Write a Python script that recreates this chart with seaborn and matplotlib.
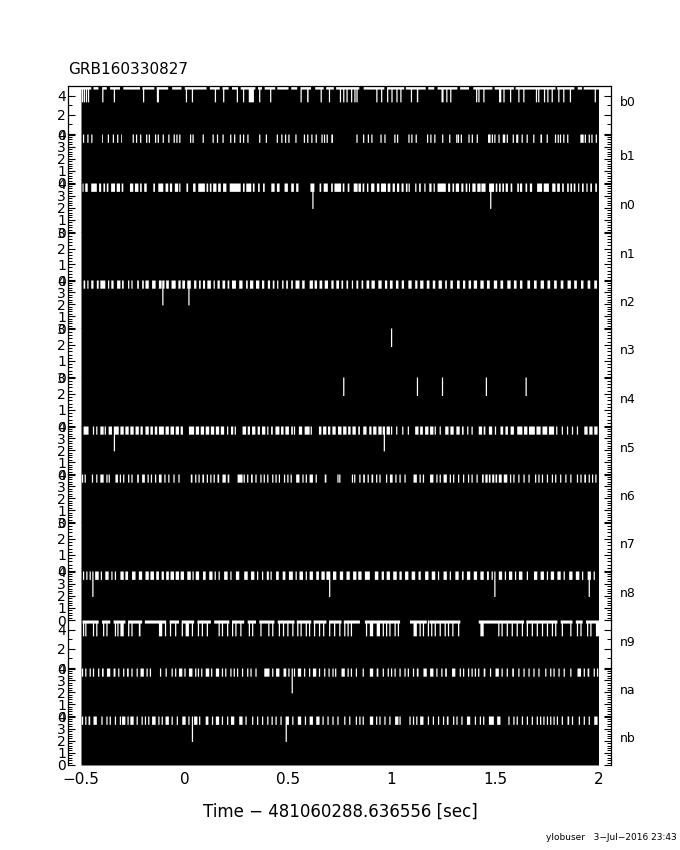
import numpy as np
import pandas as pd
import matplotlib
matplotlib.use("Agg")
import matplotlib.pyplot as plt
from matplotlib.ticker import MultipleLocator, FixedLocator
import seaborn as sns

# ---------------- data ----------------
TITLE = "GRB160330827"
XLABEL = "Time \u2212 481060288.636556 [sec]"
FOOTER = "ylobuser   3\u2212Jul\u22122016 23:43"
T0, T1 = -0.5, 2.0
XTICKS = [-0.5, 0, 0.5, 1, 1.5, 2]
XTICKLABELS = ["\u22120.5", "0", "0.5", "1", "1.5", "2"]

DETECTORS = ["b0", "b1", "n0", "n1", "n2", "n3", "n4", "n5", "n6", "n7", "n8", "n9", "na", "nb"]
# axis range type per panel: A -> 0..5 (labels 0,2,4); B -> 0..4 ; C -> 0..3
SCALE = ["A", "B", "B", "C", "B", "C", "C", "B", "B", "C", "B", "A", "B", "B"]

# typical (most common) count level, lower level at short drop-outs, level of single deep drop-outs
FULL_LEVEL = {"A": 4.68, "B": 4.2, "C": 3.2}
GAP_LEVEL = {"A": 3.35, "B": 3.36, "C": 2.4}
DEEP_LEVEL = {"A": 2.0, "B": 1.95, "C": 1.9}
PEAK_LEVEL = {"A": 5.2, "B": 4.2, "C": 3.2}

# short drop-outs near the top (single time or (start, end))
GAPS_B0 = [-0.495, -0.486, -0.476, -0.466, -0.397, -0.341, -0.200, (-0.136, -0.126), 0.007, 0.036, 0.147,
           0.187, 0.253, 0.283, (0.308, 0.333), 0.361, 0.414, 0.561, (0.590, 0.597), 0.658, 0.698,
           0.751, 0.767, 0.783, 0.805, 0.821, 0.831, 0.927, 0.950, 0.979, 1.000, 1.024, 1.043, 1.094,
           (1.120, 1.127), (1.239, 1.249), 1.265, 1.284, 1.409, 1.420, 1.444, (1.517, 1.528), 1.541,
           1.573, 1.613, 1.637, 1.698, 1.709, 1.737, 1.753, 1.774, 1.806, 1.830, 1.862, 1.982]
PEAKS_B0 = [(-0.453, -0.442), (-0.418, -0.399), (-0.378, -0.362), (-0.314, -0.298), (-0.217, -0.206),
            (-0.148, -0.137), (-0.081, -0.062), (-0.017, -0.001), (0.104, 0.120), (0.168, 0.181),
            (0.211, 0.227), (0.253, 0.269), (0.340, 0.353), (0.372, 0.385), (0.436, 0.446), (0.500, 0.513),
            (0.542, 0.558), (0.609, 0.629), (0.670, 0.682), (0.719, 0.730), (0.842, 0.863), (0.963, 0.976),
            (1.059, 1.067), (1.163, 1.175), (1.204, 1.220), (1.316, 1.329), (1.372, 1.393), (1.485, 1.496),
            (1.589, 1.597), (1.790, 1.798), (1.881, 1.897), (1.918, 1.926)]

GAPS_B1 = [-0.490, -0.469, -0.450, (-0.401, -0.397), -0.370, -0.346, -0.325, (-0.308, -0.304), -0.250,
           -0.234, (-0.217, -0.211), -0.185, -0.172, -0.142, -0.129, -0.105, -0.078, (-0.055, -0.049),
           -0.039, -0.025, 0.027, 0.039, 0.088, (0.133, 0.139), 0.157, 0.184, 0.221, 0.240, 0.267, 0.283,
           0.304, 0.361, 0.393, 0.446, 0.468, 0.486, 0.502, (0.533, 0.539), 0.577, 0.593, 0.613, 0.634,
           0.662, 0.674, 0.687, (0.707, 0.715), 0.831, 0.863, (0.883, 0.889), 0.903, (0.944, 0.950),
           0.966, 1.014, 1.027, (1.079, 1.085), 1.096, 1.117, 1.172, 1.188, 1.207, 1.245, 1.279, 1.313,
           1.321, 1.335, 1.372, 1.388, 1.412, (1.464, 1.476), 1.485, 1.497, 1.517, (1.535, 1.547), 1.557,
           1.586, (1.600, 1.610), 1.629, 1.653, 1.685, (1.717, 1.725), 1.750, 1.790, 1.803, 1.814, 1.830,
           1.849, (1.910, 1.926), 1.934, 1.953, 1.966, 1.987]

GAPS_N0 = [(-0.495, -0.490), (-0.482, -0.470), (-0.453, -0.426), (-0.415, -0.405), (-0.394, -0.386),
           (-0.378, -0.370), (-0.357, -0.338), (-0.330, -0.314), (-0.306, -0.298), (-0.266, -0.250),
           (-0.242, -0.225), (-0.217, -0.209), (-0.197, -0.185), (-0.153, -0.145), (-0.129, -0.105),
           (-0.094, -0.081), (-0.073, -0.062), (-0.049, -0.033), -0.025, (0.007, 0.015), (0.039, 0.051),
           (0.064, 0.096), (0.104, 0.112), (0.120, 0.128), (0.136, 0.152), (0.160, 0.173), (0.184, 0.200),
           (0.216, 0.269), (0.280, 0.288), (0.296, 0.320), (0.328, 0.336), (0.353, 0.361), (0.377, 0.385),
           (0.417, 0.433), (0.444, 0.457), (0.481, 0.497), (0.513, 0.526), (0.537, 0.548), (0.606, 0.625),
           (0.650, 0.658), (0.670, 0.690), (0.706, 0.714), (0.722, 0.754), (0.762, 0.770), (0.786, 0.794),
           (0.815, 0.834), (0.838, 0.850), (0.858, 0.866), (0.879, 0.886), (0.899, 0.915), (0.927, 0.939),
           (0.947, 0.971), (0.979, 0.992), (1.003, 1.014), (1.024, 1.035), (1.046, 1.056), (1.067, 1.075),
           1.083, 1.115, (1.131, 1.139), 1.159, (1.180, 1.191), 1.204, (1.220, 1.260), (1.271, 1.281),
           (1.292, 1.300), (1.308, 1.324), (1.335, 1.345), (1.356, 1.364), (1.372, 1.377), (1.388, 1.404),
           (1.412, 1.428), (1.432, 1.452), (1.469, 1.493), (1.501, 1.509), (1.517, 1.525), (1.533, 1.541),
           (1.549, 1.560), (1.573, 1.581), (1.605, 1.613), (1.618, 1.629), (1.645, 1.653), (1.666, 1.677),
           (1.701, 1.725), (1.733, 1.758), (1.774, 1.790), (1.798, 1.811), (1.822, 1.830), (1.846, 1.854),
           (1.862, 1.870), (1.878, 1.886), 1.902, (1.918, 1.926), (1.939, 1.945), (1.958, 1.966),
           (1.982, 1.990)]

GAPS_N2 = [(-0.490, -0.482), -0.469, (-0.453, -0.442), (-0.426, -0.417), (-0.409, -0.385), -0.369,
           (-0.356, -0.345), (-0.328, -0.312), (-0.304, -0.296), -0.272, -0.256, (-0.231, -0.223),
           (-0.207, -0.199), (-0.191, -0.175), (-0.159, -0.142), (-0.126, -0.113), -0.102, (-0.091, -0.078),
           (-0.065, -0.045), (-0.032, -0.021), (-0.013, 0.000), (0.011, 0.028), (0.044, 0.055),
           (0.068, 0.076), (0.087, 0.097), (0.108, 0.125), 0.141, (0.157, 0.168), (0.181, 0.194),
           (0.206, 0.214), (0.227, 0.246), (0.262, 0.278), (0.295, 0.303), (0.314, 0.330), (0.343, 0.359),
           (0.372, 0.383), (0.400, 0.411), (0.424, 0.432), 0.448, (0.469, 0.476), (0.489, 0.497),
           (0.513, 0.521), (0.534, 0.553), (0.566, 0.578), (0.602, 0.618), (0.626, 0.638), (0.650, 0.663),
           (0.675, 0.691), (0.707, 0.718), (0.731, 0.744), (0.756, 0.764), (0.780, 0.788), 0.809,
           (0.828, 0.837), (0.853, 0.861), (0.877, 0.890), (0.901, 0.917), (0.934, 0.950), (0.966, 0.977),
           (0.990, 1.003), (1.019, 1.031), (1.047, 1.058), (1.079, 1.095), (1.112, 1.123), (1.136, 1.152),
           (1.168, 1.181), (1.197, 1.209), (1.225, 1.241), (1.257, 1.265), (1.282, 1.294), (1.314, 1.327),
           (1.343, 1.354), (1.370, 1.382), (1.395, 1.411), (1.427, 1.443), (1.459, 1.472), (1.492, 1.508),
           (1.524, 1.537), (1.557, 1.573), (1.589, 1.602), (1.618, 1.630), (1.654, 1.667), (1.686, 1.699),
           (1.718, 1.734), (1.751, 1.764), (1.783, 1.796), (1.815, 1.828), (1.848, 1.864), (1.880, 1.893),
           (1.913, 1.925), (1.945, 1.958), (1.977, 1.990)]

GAPS_N5 = [(-0.490, -0.466), -0.442, -0.426, (-0.409, -0.393), -0.385, (-0.369, -0.353), (-0.340, -0.320),
           (-0.312, -0.296), (-0.288, -0.272), (-0.264, -0.248), (-0.239, -0.223), (-0.215, -0.204),
           (-0.191, -0.175), (-0.167, -0.155), (-0.146, -0.134), (-0.126, -0.102), (-0.094, -0.078),
           (-0.070, -0.053), (-0.045, -0.029), (-0.021, -0.010), (0.019, 0.044), (0.052, 0.068),
           (0.076, 0.092), (0.100, 0.117), (0.125, 0.141), (0.149, 0.165), (0.173, 0.189), 0.206,
           (0.222, 0.233), 0.243, (0.278, 0.295), (0.303, 0.314), (0.324, 0.340), (0.351, 0.362),
           (0.372, 0.388), 0.400, (0.416, 0.424), (0.437, 0.456), (0.464, 0.476), (0.485, 0.502),
           (0.513, 0.521), 0.529, (0.550, 0.566), (0.578, 0.602), 0.610, (0.647, 0.659), (0.667, 0.683),
           (0.691, 0.702), (0.712, 0.728), (0.739, 0.756), (0.764, 0.780), (0.788, 0.800), (0.809, 0.825),
           (0.837, 0.845), (0.861, 0.877), (0.890, 0.901), (0.909, 0.925), (0.934, 0.950), 0.958,
           (0.974, 0.990), 0.998, 1.023, 1.052, 1.079, (1.112, 1.128), (1.136, 1.149), (1.160, 1.176),
           (1.184, 1.200), 1.209, 1.233, (1.257, 1.273), (1.282, 1.298), (1.311, 1.327), (1.338, 1.346),
           1.366, 1.387, (1.419, 1.435), (1.443, 1.451), (1.468, 1.484), 1.500, (1.524, 1.537),
           (1.548, 1.560), (1.573, 1.589), (1.605, 1.630), (1.638, 1.654), (1.662, 1.690), (1.698, 1.718),
           (1.727, 1.750), (1.758, 1.783), 1.796, 1.823, 1.848, 1.872, 1.896, (1.929, 1.945), (1.953, 1.969),
           (1.977, 1.993)]

GAPS_N6 = [-0.495, -0.482, -0.447, -0.426, (-0.409, -0.393), -0.377, -0.366, (-0.336, -0.324), -0.312,
           -0.296, -0.272, -0.256, (-0.231, -0.223), (-0.207, -0.194), -0.178, -0.162, -0.142,
           (-0.126, -0.113), -0.097, -0.078, -0.053, -0.029, (0.028, 0.036), 0.052, 0.068, (0.084, 0.092),
           0.108, 0.125, 0.141, (0.157, 0.165), (0.181, 0.197), (0.206, 0.214), (0.254, 0.278), 0.286, 0.303,
           (0.319, 0.327), 0.343, 0.367, 0.383, 0.400, 0.424, 0.440, 0.456, 0.481, 0.497, 0.513,
           (0.537, 0.553), 0.570, 0.586, (0.602, 0.618), 0.634, (0.675, 0.683), 0.739, 0.748, 0.809, 0.820,
           0.845, (0.861, 0.869), 0.885, (0.901, 0.909), 0.926, 0.942, 0.974, (0.990, 1.003), 1.019, 1.039,
           1.063, (1.104, 1.120), 1.136, 1.152, (1.184, 1.200), 1.217, 1.233, (1.249, 1.265), 1.282, 1.298,
           1.322, 1.346, 1.370, 1.387, 1.411, (1.435, 1.443), (1.451, 1.462), (1.468, 1.476),
           (1.484, 1.494), (1.500, 1.508), (1.516, 1.530), (1.540, 1.557), 1.573, 1.589, 1.613, 1.638,
           1.662, 1.694, 1.710, 1.727, 1.751, 1.775, 1.791, 1.815, 1.840, 1.864, 1.896, 1.913,
           (1.929, 1.937), 1.953, 1.969, 1.985]

GAPS_N8 = [-0.490, -0.474, -0.458, (-0.434, -0.417), -0.404, (-0.385, -0.369), -0.353, -0.336,
           (-0.312, -0.296), (-0.288, -0.275), (-0.256, -0.239), (-0.223, -0.207), (-0.191, -0.175),
           (-0.167, -0.150), (-0.139, -0.126), (-0.113, -0.102), (-0.091, -0.078), (-0.070, -0.053),
           (-0.045, -0.029), (-0.021, -0.005), (0.011, 0.028), 0.039, (0.052, 0.068), (0.087, 0.100),
           (0.117, 0.133), 0.146, 0.165, (0.189, 0.206), 0.222, (0.246, 0.262), (0.286, 0.303),
           (0.319, 0.335), 0.351, 0.375, (0.395, 0.405), 0.416, (0.440, 0.453), (0.472, 0.485),
           (0.502, 0.521), 0.537, (0.553, 0.570), 0.586, (0.602, 0.618), (0.634, 0.647), (0.659, 0.675),
           (0.683, 0.696), (0.715, 0.731), (0.748, 0.764), (0.780, 0.796), (0.812, 0.828), (0.837, 0.853),
           (0.869, 0.893), (0.917, 0.934), (0.950, 0.961), (0.974, 0.990), (1.006, 1.023), (1.036, 1.047),
           (1.063, 1.079), (1.095, 1.112), (1.128, 1.139), (1.160, 1.176), (1.192, 1.209), 1.225,
           (1.249, 1.265), 1.282, (1.306, 1.322), (1.338, 1.346), (1.362, 1.378), (1.395, 1.411),
           (1.427, 1.443), (1.459, 1.468), 1.484, (1.516, 1.532), 1.548, (1.565, 1.581), 1.597,
           (1.613, 1.630), 1.654, (1.686, 1.702), (1.718, 1.734), 1.751, (1.767, 1.783), (1.799, 1.815),
           1.832, (1.856, 1.872), (1.888, 1.905), 1.921, (1.945, 1.961), 1.977]

GAPS_N9 = [-0.490, -0.479, -0.442, -0.426, -0.393, -0.377, -0.336, -0.324, (-0.312, -0.296), -0.272,
           -0.256, (-0.223, -0.215), (-0.126, -0.110), -0.094, -0.070, -0.045, -0.013, (0.003, 0.019), 0.036,
           0.065, 0.084, 0.108, 0.165, 0.181, 0.206, 0.230, 0.246, 0.270, 0.311, 0.327, 0.367, 0.405, 0.424,
           0.456, 0.476, 0.497, 0.521, 0.545, 0.561, 0.586, 0.602, 0.626, 0.650, 0.670, 0.699, 0.723, 0.748,
           0.772, 0.788, 0.804, 0.877, (0.893, 0.909), (0.926, 0.942), 0.958, 0.974, 0.990, 1.015, 1.031,
           (1.104, 1.120), 1.136, 1.152, 1.176, 1.192, 1.209, 1.233, 1.257, 1.273, 1.294, 1.322,
           (1.427, 1.443), 1.516, 1.532, 1.557, 1.581, 1.605, 1.630, 1.654, 1.678, 1.702, 1.727, 1.751,
           1.775, 1.791, 1.823, 1.864, 1.896, 1.913, 1.945, 1.961, (1.985, 2.0)]
PEAKS_N9 = [(-0.500, -0.495), (-0.417, -0.401), (-0.361, -0.345), (-0.288, -0.275), (-0.207, -0.194),
            (-0.091, -0.074), (-0.029, -0.016), (0.044, 0.060), (0.125, 0.141), (0.214, 0.227),
            (0.286, 0.303), (0.343, 0.359), (0.432, 0.448), (0.529, 0.540), (0.610, 0.621), (0.683, 0.696),
            (0.756, 0.767), (0.845, 0.869), (1.039, 1.087), (1.168, 1.181), (1.330, 1.419), (1.638, 1.649),
            (1.799, 1.815), (1.872, 1.888), (1.921, 1.937)]

GAPS_NA = [-0.495, -0.479, -0.458, -0.442, -0.417, (-0.401, -0.393), (-0.377, -0.361), (-0.345, -0.336),
           -0.320, -0.296, (-0.280, -0.272), -0.256, -0.231, (-0.215, -0.199), -0.183, -0.167, -0.118,
           -0.091, -0.062, -0.045, (-0.029, -0.013), 0.000, (0.019, 0.036), 0.052, 0.065, 0.081,
           (0.100, 0.117), 0.129, (0.149, 0.165), 0.181, 0.197, 0.222, 0.238, 0.254, 0.278, 0.303, 0.319,
           0.343, (0.383, 0.408), 0.424, (0.440, 0.456), (0.476, 0.489), 0.502, 0.529, (0.545, 0.561),
           0.578, 0.602, (0.618, 0.634), 0.650, 0.675, 0.696, 0.715, 0.728, (0.756, 0.772), 0.788, 0.804,
           0.828, 0.861, (0.893, 0.909), (0.926, 0.934), 0.958, 0.982, 0.998, 1.015, 1.039, 1.063, 1.079,
           1.104, (1.120, 1.128), (1.152, 1.168), (1.184, 1.200), 1.217, 1.241, (1.257, 1.265),
           (1.290, 1.306), 1.330, 1.346, 1.370, 1.387, 1.403, 1.419, (1.443, 1.451), 1.476, (1.500, 1.516),
           1.532, 1.557, (1.581, 1.589), 1.613, 1.638, 1.662, 1.686, 1.710, 1.743, 1.767, 1.783, 1.807,
           1.832, 1.864, (1.896, 1.913), 1.929, (1.945, 1.953), 1.977, 1.993]

GAPS_NB = [-0.495, -0.479, (-0.466, -0.458), (-0.442, -0.426), -0.401, -0.377, -0.361, -0.336, -0.312,
           (-0.304, -0.288), -0.275, (-0.264, -0.248), -0.231, -0.207, -0.191, -0.175, (-0.159, -0.142),
           -0.126, -0.110, (-0.094, -0.078), -0.062, -0.037, (-0.013, 0.003), 0.019, (0.044, 0.060), 0.071,
           (0.100, 0.113), 0.133, (0.149, 0.165), 0.181, 0.206, (0.222, 0.238), (0.262, 0.278), 0.295,
           0.327, 0.351, 0.375, 0.400, 0.421, 0.440, 0.464, (0.489, 0.502), 0.521, (0.545, 0.561), 0.582,
           (0.602, 0.618), (0.634, 0.650), 0.667, 0.691, 0.715, 0.739, 0.772, 0.796, 0.828, 0.845, 0.861,
           (0.893, 0.909), 0.926, 0.942, 0.966, 0.990, (1.015, 1.031), 1.039, 1.087, 1.104, 1.120,
           (1.136, 1.152), 1.176, 1.200, 1.225, 1.249, (1.265, 1.273), 1.298, 1.314, 1.338, (1.362, 1.378),
           1.403, 1.427, 1.443, (1.468, 1.492), (1.508, 1.524), 1.565, 1.589, 1.605, 1.630, 1.654, 1.678,
           1.702, 1.718, 1.734, 1.751, 1.767, 1.783, 1.799, 1.823, (1.848, 1.856), 1.872, 1.905, 1.929,
           1.953, (1.977, 1.993)]

GAPS = {"b0": GAPS_B0, "b1": GAPS_B1, "n0": GAPS_N0, "n2": GAPS_N2, "n5": GAPS_N5, "n6": GAPS_N6,
        "n8": GAPS_N8, "n9": GAPS_N9, "na": GAPS_NA, "nb": GAPS_NB}
PEAKS = {"b0": PEAKS_B0, "n9": PEAKS_N9}

# isolated deep drop-outs (time in s)
DEEP_N0 = [0.618, 1.477]
DEEP_N2 = [-0.107, 0.019]
DEEP_N3 = [0.998]
DEEP_N4 = [0.767, 1.123, 1.244, 1.456, 1.648]
DEEP_N5 = [-0.341, 0.963]
DEEP_N8 = [-0.445, 0.699, 1.497, 1.953]
DEEP_NA = [0.518]
DEEP_NB = [0.036, 0.489]
DEEP = {"n0": DEEP_N0, "n2": DEEP_N2, "n3": DEEP_N3, "n4": DEEP_N4, "n5": DEEP_N5,
        "n8": DEEP_N8, "na": DEEP_NA, "nb": DEEP_NB}

YLIM = {"A": (0.0, 5.0), "B": (0.0, 4.05), "C": (0.0, 3.05)}
BIN = 0.001      # histogram bin width (s)
SINGLE = 0.006   # width of a single drop-out (s)


def as_span(g):
    if isinstance(g, tuple):
        return g
    return (g - SINGLE / 2, g + SINGLE / 2)


def profile(det, kind):
    nb = int(round((T1 - T0) / BIN))
    mids = T0 + BIN * (np.arange(nb) + 0.5)
    vals = np.full(nb, FULL_LEVEL[kind])
    for p in PEAKS.get(det, []):
        a, b = as_span(p)
        m = (mids > a) & (mids < b)
        vals[m] = PEAK_LEVEL[kind]
    for g in GAPS.get(det, []):
        a, b = as_span(g)
        m = (mids > a) & (mids < b)
        vals[m] = np.minimum(vals[m], GAP_LEVEL[kind])
    for d in DEEP.get(det, []):
        a, b = as_span(d)
        m = (mids > a) & (mids < b)
        vals[m] = np.minimum(vals[m], DEEP_LEVEL[kind])
    return pd.DataFrame({"t": mids, "counts": vals}), nb


# ---------------- figure ----------------
sns.set_style("white")
plt.rcParams["font.family"] = ["DejaVu Sans"]
plt.rcParams.update({"text.color": "black", "axes.labelcolor": "black",
                     "xtick.color": "black", "ytick.color": "black"})

W, H = 680, 850
fig = plt.figure(figsize=(W / 100, H / 100), dpi=100)
fig.patch.set_facecolor("white")

left_px, right_px = 68, 611
top_px, bottom_px = 86, 765
n = len(DETECTORS)
panel_px = (bottom_px - top_px) / n
bounds = [int(round(top_px + panel_px * k)) for k in range(n + 1)]
px_per_s = (598.5 - 81) / (T1 - T0)
xlim = (T0 - (81 - left_px) / px_per_s, T1 + (right_px - 598.5) / px_per_s)

label_dy = {"b0": 17}

for i, (det, kind) in enumerate(zip(DETECTORS, SCALE)):
    y_top, y_bot = bounds[i], bounds[i + 1]
    h = y_bot - y_top
    ax = fig.add_axes([left_px / W, 1 - y_bot / H, (right_px - left_px) / W, h / H])
    ax.set_facecolor("none")
    df, nbins = profile(det, kind)
    sns.histplot(data=df, x="t", weights="counts", bins=nbins, binrange=(T0, T1), element="step",
                 fill=True, color="black", alpha=1.0, linewidth=0, antialiased=False, ax=ax)
    ax.set_xlim(*xlim)
    ax.set_ylim(*YLIM[kind])
    ax.set_xlabel("")
    ax.set_ylabel("")
    for s in ["left", "right"]:
        ax.spines[s].set_visible(True)
        ax.spines[s].set_color("black")
        ax.spines[s].set_linewidth(0.9)
    ax.spines["top"].set_visible(i == 0)
    ax.spines["top"].set_color("black")
    ax.spines["top"].set_linewidth(0.9)
    ax.spines["bottom"].set_visible(False)

    if kind == "A":
        ax.yaxis.set_major_locator(FixedLocator([0, 2, 4]))
        ax.yaxis.set_minor_locator(MultipleLocator(1))
    elif kind == "B":
        ax.yaxis.set_major_locator(FixedLocator([0, 1, 2, 3, 4]))
        ax.yaxis.set_minor_locator(MultipleLocator(0.2))
    else:
        ax.yaxis.set_major_locator(FixedLocator([0, 1, 2, 3]))
        ax.yaxis.set_minor_locator(MultipleLocator(0.2))
    ax.tick_params(axis="y", which="both", direction="in", left=True, right=True,
                   labelleft=True, labelright=False, color="black", labelcolor="black")
    ax.tick_params(axis="y", which="major", length=5, width=0.8, labelsize=10, pad=1.5)
    ax.tick_params(axis="y", which="minor", length=3, width=0.7)

    ax.set_xticks(XTICKS)
    if i == n - 1:
        ax.set_xticklabels(XTICKLABELS)
        ax.tick_params(axis="x", length=0, labelsize=11, pad=5, labelcolor="black")
    else:
        ax.tick_params(axis="x", length=0, labelbottom=False)

    dy = label_dy.get(det, 22.5)
    ax.text(1 + 9 / (right_px - left_px), 1 - dy / h, det, transform=ax.transAxes,
            ha="left", va="center", fontsize=9, color="black")

fig.text(left_px / W, 1 - 70 / H, TITLE, ha="left", va="center", fontsize=11, color="black")
fig.text(340 / W, 1 - 812 / H, XLABEL, ha="center", va="center", fontsize=12, color="black")
fig.text(677 / W, 1 - 838 / H, FOOTER, ha="right", va="center", fontsize=6.5, color="black")

fig.savefig("out.png", dpi=100, facecolor="white")
